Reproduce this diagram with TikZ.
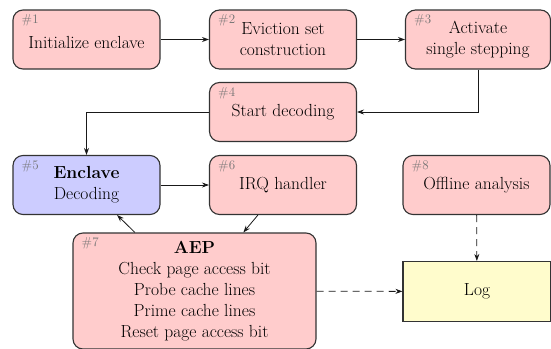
\documentclass[tikz,border=0pt]{standalone}
\usetikzlibrary{arrows.meta}
\begin{document}
\begin{tikzpicture}[x=1pt,y=-1pt,
  box/.style={draw=black!80, line width=1.1pt, rounded corners=10pt, fill=red!20, minimum width=147pt, minimum height=59pt, align=center, inner sep=2pt, font=\fontsize{17.5}{21}\selectfont},
  tag/.style={anchor=north west, inner sep=0pt, text=black!55, font=\fontsize{13}{15}\selectfont},
  arr/.style={-{Stealth[length=7pt,width=5pt]}, line width=0.8pt, black!90},
  darr/.style={arr, dashed, dash pattern=on 7pt off 5pt}]
\useasboundingbox (0,0) rectangle (551,348);
\node[box] (b1) at (86.5,39.5) {\rule{0pt}{18pt}Initialize enclave};
\node[box] (b2) at (283,39.5) {Eviction set\\construction};
\node[box, minimum width=145pt] (b3) at (478,39.5) {Activate\\single stepping};
\node[box] (b4) at (283,112) {Start decoding};
\node[box, fill=blue!20] (b5) at (86.5,185) {\textbf{Enclave}\\Decoding};
\node[box] (b6) at (283,185) {IRQ handler};
\node[box] (b8) at (476.5,185) {Offline analysis};
\node[box, minimum width=243pt, minimum height=116pt] (b7) at (194.5,291) {\textbf{AEP}\\Check page access bit\\Probe cache lines\\Prime cache lines\\Reset page access bit};
\node[box, rounded corners=0pt, fill=yellow!20, minimum width=148pt, minimum height=60pt] (log) at (477,291.5) {Log};
\foreach \b/\t in {b1/1,b2/2,b3/3,b4/4,b5/5,b6/6,b8/8,b7/7}
  \node[tag] (t\t) at ([xshift=9pt,yshift=-5pt]\b.north west) {\#\t};
\draw[arr] (b1) -- (b2);
\draw[arr] (b2) -- (b3);
\draw[arr] (b3.south) |- (b4.east);
\draw[arr] (b4.west) -| (b5.north);
\draw[arr] (b5) -- (b6);
\draw[arr] (b6) -- (b7);
\draw[arr] (b7) -- (b5);
\draw[darr] (b7) -- (log);
\draw[darr] (b8) -- (log);
\end{tikzpicture}
\end{document}
